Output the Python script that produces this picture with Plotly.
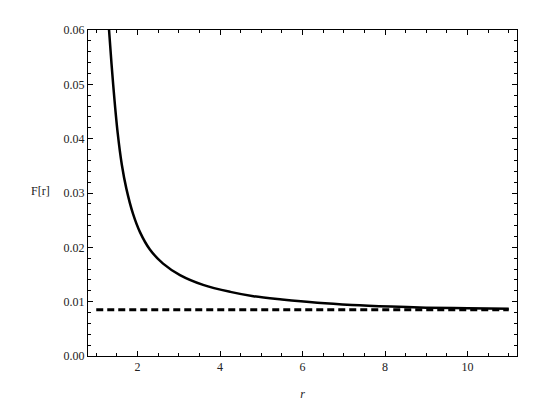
import plotly.graph_objects as go

# values
r_vals = [1.28, 1.31, 1.41, 1.52, 1.62, 1.73, 1.89, 2.06, 2.30, 2.62, 3.03, 3.59,
          4.25, 4.81, 5.5, 6.36, 7.2, 8.14, 9.0, 10.0, 11.0]
f_vals = [0.0635, 0.0600, 0.0500, 0.0410, 0.0352, 0.0308, 0.0262, 0.0228, 0.0196,
          0.0170, 0.0149, 0.0131, 0.0118, 0.0110, 0.0104, 0.0098, 0.0094, 0.0091,
          0.0089, 0.0088, 0.0087]

r_flat = [1.0, 11.0]
f_flat = [0.0085, 0.0085]

x_ticks = [2, 4, 6, 8, 10]
y_ticks = [0.00, 0.01, 0.02, 0.03, 0.04, 0.05, 0.06]

font_main = "Liberation Serif"

fig = go.Figure()

fig.add_trace(go.Scatter(
    x=r_flat, y=f_flat, mode="lines",
    line=dict(color="black", width=3, dash="7px,4px"),
    showlegend=False,
))

fig.add_trace(go.Scatter(
    x=r_vals, y=f_vals, mode="lines",
    line=dict(color="black", width=2.5, shape="spline", smoothing=1.0),
    showlegend=False,
))

fig.update_xaxes(
    range=[0.8, 11.2],
    tickvals=x_ticks,
    ticktext=[str(v) for v in x_ticks],
    ticks="inside", ticklen=5, tickwidth=1, tickcolor="black",
    minor=dict(ticks="inside", ticklen=3, dtick=0.5, tick0=0, tickcolor="black"),
    showline=True, linecolor="black", linewidth=1, mirror="allticks",
    showgrid=False, zeroline=False,
    tickfont=dict(family=font_main, size=12, color="#222"),
    title=dict(text="<i>r</i>", font=dict(family=font_main, size=12, color="#222"),
               standoff=16),
)

fig.update_yaxes(
    range=[0, 0.06],
    tickvals=y_ticks,
    ticktext=["%.2f" % v for v in y_ticks],
    ticks="inside", ticklen=5, tickwidth=1, tickcolor="black",
    minor=dict(ticks="inside", ticklen=3, dtick=0.002, tick0=0, tickcolor="black"),
    showline=True, linecolor="black", linewidth=1, mirror="allticks",
    showgrid=False, zeroline=False,
    tickfont=dict(family=font_main, size=12, color="#222"),
)

fig.add_annotation(
    text="F[r]", xref="paper", yref="paper", x=-0.085, y=0.505,
    xanchor="right", yanchor="middle", showarrow=False,
    font=dict(family=font_main, size=12, color="#222"),
)

# page adds an 8px body margin, so the figure box is shifted by 8px
fig.update_layout(
    width=539, height=410,
    margin=dict(l=80, r=30, t=22, b=62),
    plot_bgcolor="white", paper_bgcolor="white",
)

fig.write_html("out.html")
